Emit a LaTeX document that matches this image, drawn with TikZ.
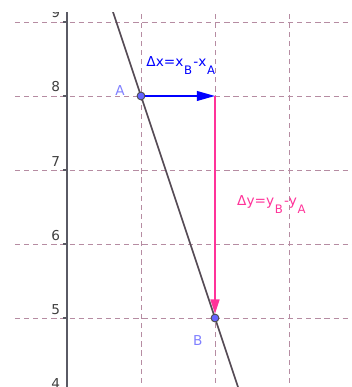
\documentclass[tikz,border=0pt]{standalone}
\usepackage{fontspec}
\setmainfont{DejaVu Sans}
\usetikzlibrary{arrows.meta,positioning,calc,backgrounds}

\definecolor{grigliacol}{RGB}{182,140,162}
\definecolor{assecol}{RGB}{90,90,100}
\definecolor{rettacol}{RGB}{85,75,85}
\definecolor{blupunto}{RGB}{100,100,255}
\definecolor{blutesto}{RGB}{128,128,255}
\definecolor{rosa}{RGB}{255,51,153}

\newcommand{\pedice}[1]{\kern0.5pt\raisebox{-6.5pt}{\fontsize{9}{10}\selectfont #1}\kern1pt}

\tikzset{
    griglia/.style={grigliacol, line width=0.7pt, dash pattern=on 4pt off 3pt},
    punto/.style={circle, fill=blupunto, draw=black!70, line width=0.7pt, minimum size=6pt, inner sep=0pt},
    etichetta/.style={text=blutesto, inner sep=0pt},
}

\begin{document}
\begin{tikzpicture}[x=2cm, y=2cm, font=\fontsize{10.5}{12}\selectfont]
        \useasboundingbox (-0.905,4.068) rectangle (3.851,9.297);

        % Punti A e B
        \node[punto] (A) at (1,8) {};
        \node[punto] (B) at (2,5) {};
        \coordinate (C) at (2,8);

        \begin{scope}[on background layer]
            \clip (-0.703,4.068) rectangle (3.851,9.122);
            % Griglia
            \foreach \y in {4,...,9}
                \draw[griglia] (-0.703,\y) -- (3.9,\y);
            \foreach \x in {1,2,3}
                \draw[griglia] (\x,4) -- (\x,9.3);

            % Asse y
            \draw[assecol, line width=1.3pt] (0,4) -- (0,9.3);
            \foreach \y in {4,...,9} {
                \draw[assecol, line width=1.1pt] (-0.055,\y) -- (0,\y);
                \node[anchor=base east, inner sep=0pt, text=black!75] at (-0.09,\y+0.054) {\y};
            }

            % Retta per A e B
            \draw[rettacol, line width=1.3pt] ($(A)!-0.5!(B)$) -- ($(A)!1.4!(B)$);
        \end{scope}

        % Incrementi
        \draw[-{Triangle[length=14pt,width=7.5pt]}, blue, line width=1.3pt] (A) -- (C);
        \draw[-{Triangle[length=11pt,width=7pt]}, rosa, line width=1pt] (C) -- (B);

        % Etichette
        \node[etichetta, left=9pt of A, yshift=4pt] {A};
        \node[etichetta, below left=11pt and 7pt of B] {B};
        \node[text=blue, anchor=base west, inner sep=0pt] (dx) at (1.07,8.405) {Δx=x\pedice{B}-x\pedice{A}};
        \node[text=rosa, anchor=base west, inner sep=0pt] (dy) at (2.297,6.527) {Δy=y\pedice{B}-y\pedice{A}};
\end{tikzpicture}
\end{document}
